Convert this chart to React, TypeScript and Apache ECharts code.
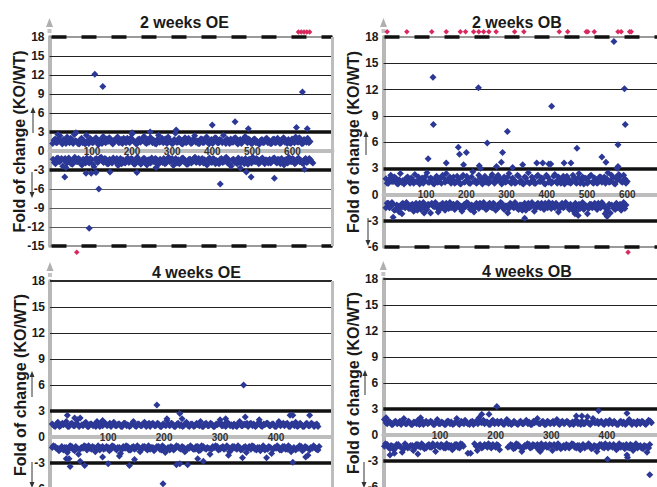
import React, { useEffect, useRef } from "react";
import * as echarts from "echarts";

const FONT = '"Liberation Sans", Arial, Helvetica, sans-serif';

const panelTitles = ["2 weeks OE", "2 weeks OB", "4 weeks OE", "4 weeks OB"];
const yAxisTitle = "Fold of change (KO/WT)";
const xTickLabels = [
  [100, 200, 300, 400, 500, 600],
  [100, 200, 300, 400, 500, 600],
  [100, 200, 300, 400],
  [100, 200, 300, 400],
];
const yMinValues = [-15, -6, -6, -6];
const yMaxValues = [18, 18, 18, 18];
const xMinValues = [-6, -6, -4, -2];
const xMaxValues = [700, 674, 500, 490];

// ---------- 2 weeks OE ----------
const oe2Up = [
  [2,1.2],[8,1.9],[14,1.4],[20,2.4],[26,1.1],[32,1.7],[38,2.2],[44,1.3],[50,1.8],[56,2.6],
  [62,1.5],[68,1.1],[74,2.0],[80,1.6],[86,2.5],[92,1.2],[98,1.8],[104,1.4],[110,2.1],[116,1.0],
  [122,1.7],[128,2.3],[134,1.3],[140,1.5],[146,1.9],[152,1.1],[158,1.6],[164,2.2],[170,1.4],[176,1.2],
  [182,1.8],[188,2.0],[194,1.3],[200,2.7],[206,1.5],[212,1.1],[218,1.9],[224,1.6],[230,2.3],[236,1.2],
  [242,1.4],[248,2.0],[254,1.7],[260,1.1],[266,2.5],[272,1.5],[278,1.3],[284,1.9],[290,2.2],[296,1.6],
  [302,1.2],[308,2.8],[314,1.4],[320,1.8],[326,1.1],[332,2.1],[338,1.5],[344,1.7],[350,1.3],[356,2.4],
  [362,1.6],[368,1.2],[374,1.9],[380,1.4],[386,2.2],[392,1.1],[398,1.8],[404,1.5],[410,2.0],[416,1.3],
  [422,1.7],[428,2.5],[434,1.2],[440,1.6],[446,1.9],[452,1.4],[458,2.1],[464,1.1],[470,1.8],[476,1.5],
  [482,2.3],[488,1.3],[494,1.7],[500,1.2],[506,1.9],[512,1.5],[518,1.1],[524,1.8],[530,1.4],[536,2.0],
  [542,1.6],[548,1.2],[554,1.9],[560,1.4],[566,1.7],[572,1.3],[578,2.1],[584,1.5],[590,1.8],[596,1.2],
  [602,1.6],[608,2.2],[614,1.4],[620,1.9],[626,1.2],[632,1.7],[638,2.0],[644,1.5],
];
const oe2UpB = [
  [5,1.7],[11,1.3],[17,2.0],[23,1.5],[29,1.8],[35,1.2],[41,1.5],[47,2.0],[53,1.2],[59,1.6],
  [65,1.2],[71,1.8],[77,1.3],[83,1.1],[89,1.6],[95,2.0],[101,1.3],[107,1.9],[113,1.4],[119,1.7],
  [125,1.2],[131,1.5],[137,1.9],[143,2.1],[149,1.3],[155,1.7],[161,2.0],[167,1.3],[173,1.8],[179,2.0],
  [185,1.3],[191,1.5],[197,2.1],[203,1.6],[209,1.2],[215,1.8],[221,1.4],[227,2.1],[233,1.3],[239,1.8],
  [245,2.1],[251,1.3],[257,1.2],[263,1.8],[269,1.4],[275,2.0],[281,1.8],[287,1.2],[293,1.5],[299,1.2],
  [305,1.8],[311,1.4],[317,2.0],[323,1.2],[329,1.7],[335,1.3],[341,2.0],[347,1.2],[353,1.9],[359,1.4],
  [365,1.2],[371,1.9],[377,1.3],[383,2.0],[389,1.4],[395,1.7],[401,1.2],[407,2.1],[413,1.3],[419,1.8],
  [425,1.3],[431,1.5],[437,1.9],[443,1.2],[449,1.4],[455,2.0],[461,1.3],[467,1.7],[473,1.2],[479,2.0],
  [485,1.5],[491,1.9],[497,1.2],[503,1.8],[509,1.3],[515,1.2],[521,1.7],[527,1.3],[533,1.9],[539,1.3],
  [545,1.2],[551,1.8],[557,1.3],[563,2.0],[569,1.2],[575,1.9],[581,1.4],[587,1.2],[593,1.3],[599,1.9],
  [605,1.3],[611,1.5],[617,2.1],[623,1.2],[629,1.8],[635,1.4],[641,1.3],
];
const oe2UpOutliers = [
  [107,12.1],[127,10.2],[625,9.3],[457,4.6],[400,4.1],[310,3.3],[490,3.5],[610,3.7],[637,3.5],
  [200,2.9],[245,3.0],[60,2.9],[15,2.6],
];
const oe2Down = [
  [3,-1.3],[9,-2.0],[15,-1.1],[21,-1.6],[27,-2.4],[33,-1.2],[39,-1.8],[45,-1.4],[51,-2.1],[57,-1.0],
  [63,-1.7],[69,-1.3],[75,-2.2],[81,-1.5],[87,-1.1],[93,-1.9],[99,-1.4],[105,-2.5],[111,-1.2],[117,-1.6],
  [123,-1.0],[129,-1.8],[135,-1.3],[141,-2.0],[147,-1.5],[153,-1.1],[159,-1.7],[165,-2.3],[171,-1.2],[177,-1.4],
  [183,-1.9],[189,-1.1],[195,-1.6],[201,-1.3],[207,-2.1],[213,-1.0],[219,-1.5],[225,-1.8],[231,-1.2],[237,-2.2],
  [243,-1.4],[249,-1.1],[255,-1.7],[261,-1.3],[267,-2.0],[273,-1.5],[279,-1.2],[285,-1.9],[291,-1.0],[297,-1.6],
  [303,-2.3],[309,-1.2],[315,-1.4],[321,-1.8],[327,-1.1],[333,-1.5],[339,-2.1],[345,-1.3],[351,-1.7],[357,-1.0],
  [363,-1.6],[369,-1.9],[375,-1.2],[381,-1.4],[387,-2.2],[393,-1.1],[399,-1.8],[405,-1.3],[411,-1.5],[417,-2.0],
  [423,-1.2],[429,-1.7],[435,-1.0],[441,-1.4],[447,-2.4],[453,-1.3],[459,-1.6],[465,-1.1],[471,-1.9],[477,-1.5],
  [483,-1.2],[489,-2.1],[495,-1.4],[501,-1.0],[507,-1.7],[513,-1.3],[519,-1.8],[525,-1.1],[531,-2.0],[537,-1.5],
  [543,-1.3],[549,-1.6],[555,-1.1],[561,-1.9],[567,-1.4],[573,-1.2],[579,-2.2],[585,-1.5],[591,-1.0],[597,-1.7],
  [603,-1.3],[609,-1.8],[615,-1.1],[621,-1.5],[627,-2.0],[633,-1.2],[639,-1.6],[645,-1.4],[651,-1.9],
];
const oe2DownB = [
  [6,-1.8],[12,-1.2],[18,-1.7],[24,-1.2],[30,-1.4],[36,-1.9],[42,-1.1],[48,-2.0],[54,-1.3],[60,-1.6],
  [66,-1.2],[72,-2.0],[78,-1.3],[84,-1.9],[90,-1.7],[96,-1.2],[102,-2.1],[108,-1.3],[114,-1.8],[120,-1.1],
  [126,-1.6],[132,-1.2],[138,-2.0],[144,-1.3],[150,-1.9],[156,-1.6],[162,-1.2],[168,-1.5],[174,-2.0],[180,-1.8],
  [186,-1.3],[192,-1.8],[198,-1.2],[204,-2.0],[210,-1.4],[216,-1.7],[222,-2.1],[228,-1.2],[234,-1.9],[240,-1.4],
  [246,-1.9],[252,-1.6],[258,-1.2],[264,-2.1],[270,-1.3],[276,-1.8],[282,-2.0],[288,-1.3],[294,-1.7],[300,-1.2],
  [306,-1.5],[312,-1.9],[318,-2.0],[324,-1.2],[330,-1.7],[336,-2.1],[342,-1.3],[348,-1.9],[354,-1.2],[360,-1.8],
  [366,-1.2],[372,-1.4],[378,-1.9],[384,-2.0],[390,-1.3],[396,-1.7],[402,-1.2],[408,-2.0],[414,-1.8],[420,-1.3],
  [426,-1.8],[432,-1.2],[438,-1.9],[444,-2.1],[450,-1.4],[456,-1.8],[462,-2.0],[468,-1.7],[474,-1.3],[480,-2.0],
  [486,-1.8],[492,-1.3],[498,-1.9],[504,-1.6],[510,-1.2],[516,-2.0],[522,-1.3],[528,-1.7],[534,-1.4],[540,-1.9],
  [546,-1.9],[552,-1.2],[558,-1.7],[564,-1.3],[570,-2.0],[576,-1.7],[582,-1.4],[588,-1.9],[594,-1.6],[600,-1.2],
  [606,-2.0],[612,-1.3],[618,-1.7],[624,-1.9],[630,-1.4],[636,-1.8],[642,-1.2],[648,-1.7],
];
const oe2DownOutliers = [
  [32,-4.1],[93,-12.2],[117,-6.0],[85,-3.5],[98,-3.5],[110,-3.4],[145,-3.3],[212,-3.4],[420,-5.2],
  [485,-3.3],[497,-4.1],[555,-4.3],[630,-2.9],[35,-2.6],[260,-2.6],[470,-2.7],
];
const oe2OffScale = [[615,18.8],[622,18.8],[629,18.8],[636,18.8],[643,18.8],[62,-16.0]];

// ---------- 2 weeks OB ----------
const ob2Up = [
  [0,1.8],[6,1.3],[12,2.2],[18,1.5],[24,1.9],[30,1.2],[36,2.4],[42,1.6],[48,1.4],[54,2.0],
  [60,1.3],[66,1.7],[72,2.3],[78,1.5],[84,1.2],[90,1.9],[96,1.6],[102,2.5],[108,1.4],[114,1.8],
  [120,1.2],[126,2.1],[132,1.5],[138,1.3],[144,1.9],[150,2.4],[156,1.6],[162,1.3],[168,2.0],[174,1.4],
  [180,1.7],[186,1.2],[192,2.2],[198,1.5],[204,1.8],[210,1.3],[216,2.6],[222,1.6],[228,1.4],[234,1.9],
  [240,1.2],[246,2.1],[252,1.7],[258,1.4],[264,2.3],[270,1.3],[276,1.6],[282,1.9],[288,1.2],[294,2.0],
  [300,1.5],[306,2.4],[312,1.3],[318,1.7],[324,1.4],[330,2.1],[336,1.6],[342,1.2],[348,1.9],[354,2.5],
  [360,1.4],[366,1.7],[372,1.3],[378,2.2],[384,1.5],[390,1.8],[396,1.2],[402,2.0],[408,1.6],[414,1.4],
  [420,2.3],[426,1.3],[432,1.8],[438,1.5],[444,1.2],[450,2.1],[456,1.7],[462,1.4],[468,1.9],[474,1.3],
  [480,2.4],[486,1.6],[492,1.2],[498,1.8],[504,1.5],[510,2.2],[516,1.3],[522,1.7],[528,1.4],[534,2.0],
  [540,1.6],[546,1.3],[552,2.5],[558,1.5],[564,1.9],[570,1.2],[576,1.7],[582,2.1],[588,1.4],[594,1.8],
  [600,1.5],
];
const ob2UpB = [
  [3,1.3],[9,1.8],[15,1.5],[21,2.0],[27,1.3],[33,1.7],[39,1.4],[45,1.2],[51,1.9],[57,1.5],
  [63,1.9],[69,1.3],[75,1.5],[81,2.0],[87,1.7],[93,1.3],[99,2.1],[105,1.4],[111,1.9],[117,1.3],
  [123,1.8],[129,1.4],[135,1.9],[141,2.2],[147,1.4],[153,1.6],[159,2.0],[165,1.7],[171,1.3],[177,2.1],
  [183,1.3],[189,2.0],[195,1.4],[201,2.1],[207,1.3],[213,2.0],[219,1.5],[225,1.3],[231,2.2],[237,1.4],
  [243,1.8],[249,1.4],[255,1.3],[261,2.0],[267,1.5],[273,1.9],[279,2.2],[285,1.4],[291,1.8],[297,1.4],
  [303,2.0],[309,1.4],[315,1.9],[321,1.3],[327,2.2],[333,1.4],[339,1.3],[345,2.0],[351,1.5],[357,1.3],
  [363,2.0],[369,1.3],[375,2.1],[381,1.5],[387,1.9],[393,1.3],[399,2.2],[405,1.4],[411,1.3],[417,2.1],
  [423,1.5],[429,2.0],[435,1.3],[441,2.1],[447,1.8],[453,1.4],[459,1.3],[465,2.2],[471,1.4],[477,1.9],
  [483,1.3],[489,2.0],[495,1.9],[501,1.3],[507,2.1],[513,1.4],[519,1.9],[525,1.3],[531,2.0],[537,1.4],
  [543,2.0],[549,1.8],[555,1.4],[561,2.2],[567,1.3],[573,2.0],[579,2.3],[585,1.5],[591,2.2],[597,1.3],
];
const ob2UpOutliers = [
  [567,17.5],[117,13.4],[118,8.0],[230,12.2],[412,10.1],[593,12.1],[595,8.0],[302,7.2],[252,5.9],
  [577,5.7],[105,4.1],[180,5.4],[183,4.6],[200,4.8],[290,4.8],[475,5.3],[537,4.3],[547,3.7],
  [150,3.6],[193,3.4],[232,3.3],[275,3.2],[287,3.7],[315,3.1],[340,3.4],[375,3.6],[390,3.6],
  [405,3.5],[410,3.5],[443,3.6],[460,3.6],[577,3.2],[235,3.0],[575,3.0],
];
const ob2Down = [
  [3,-1.0],[9,-1.5],[15,-0.9],[21,-1.8],[27,-1.2],[33,-2.0],[39,-1.1],[45,-1.4],[51,-0.9],[57,-1.6],
  [63,-1.2],[69,-1.9],[75,-1.0],[81,-1.3],[87,-1.7],[93,-0.9],[99,-1.5],[105,-1.1],[111,-2.1],[117,-1.3],
  [123,-0.9],[129,-1.6],[135,-1.2],[141,-1.0],[147,-1.8],[153,-1.4],[159,-0.9],[165,-1.2],[171,-1.7],[177,-1.0],
  [183,-1.5],[189,-1.9],[195,-1.1],[201,-0.9],[207,-1.4],[213,-1.2],[219,-2.0],[225,-1.0],[231,-1.6],[237,-1.3],
  [243,-0.9],[249,-1.7],[255,-1.1],[261,-1.4],[267,-1.0],[273,-1.8],[279,-1.2],[285,-0.9],[291,-1.5],[297,-1.3],
  [303,-2.1],[309,-1.0],[315,-1.4],[321,-0.9],[327,-1.6],[333,-1.2],[339,-1.8],[345,-1.0],[351,-1.3],[357,-1.5],
  [363,-0.9],[369,-1.9],[375,-1.1],[381,-1.4],[387,-1.0],[393,-1.7],[399,-1.2],[405,-0.9],[411,-1.6],[417,-1.3],
  [423,-1.0],[429,-2.0],[435,-1.2],[441,-1.5],[447,-0.9],[453,-1.4],[459,-1.1],[465,-1.8],[471,-1.0],[477,-1.3],
  [483,-1.6],[489,-0.9],[495,-1.2],[501,-2.2],[507,-1.1],[513,-1.5],[519,-1.0],[525,-1.7],[531,-1.3],[537,-0.9],
  [543,-1.4],[549,-1.9],[555,-1.1],[561,-1.2],[567,-1.6],[573,-1.0],[579,-1.3],[585,-1.8],[591,-0.9],[597,-1.2],
];
const ob2DownB = [
  [0,-1.5],[6,-1.0],[12,-1.4],[18,-1.1],[24,-1.7],[30,-1.3],[36,-1.6],[42,-1.0],[48,-1.5],[54,-1.1],
  [60,-1.6],[66,-1.1],[72,-1.5],[78,-1.8],[84,-1.0],[90,-1.4],[96,-1.1],[102,-1.7],[108,-1.2],[114,-1.0],
  [120,-1.4],[126,-1.1],[132,-1.7],[138,-1.5],[144,-1.2],[150,-1.0],[156,-1.6],[162,-1.5],[168,-1.1],[174,-1.4],
  [180,-1.1],[186,-1.3],[192,-1.6],[198,-1.4],[204,-1.0],[210,-1.7],[216,-1.3],[222,-1.5],[228,-1.1],[234,-1.0],
  [240,-1.4],[246,-1.2],[252,-1.6],[258,-1.0],[264,-1.5],[270,-1.1],[276,-1.6],[282,-1.4],[288,-1.0],[294,-1.7],
  [300,-1.3],[306,-1.6],[312,-1.1],[318,-1.5],[324,-1.1],[330,-1.7],[336,-1.2],[342,-1.5],[348,-1.8],[354,-1.0],
  [360,-1.4],[366,-1.2],[372,-1.6],[378,-1.0],[384,-1.5],[390,-1.2],[396,-1.0],[402,-1.5],[408,-1.1],[414,-1.0],
  [420,-1.5],[426,-1.3],[432,-1.6],[438,-1.0],[444,-1.4],[450,-1.1],[456,-1.7],[462,-1.3],[468,-1.5],[474,-1.9],
  [480,-1.1],[486,-1.4],[492,-1.7],[498,-1.3],[504,-1.6],[510,-1.1],[516,-1.4],[522,-1.2],[528,-1.0],[534,-1.5],
  [540,-1.1],[546,-1.5],[552,-1.6],[558,-2.1],[564,-1.3],[570,-1.7],[576,-1.5],[582,-1.1],[588,-1.5],[594,-1.6],
];
const ob2DownOutliers = [
  [345,-2.7],[18,-2.6],[470,-2.2],[478,-2.4],[545,-2.2],[550,-2.5],[40,-2.2],[95,-2.1],[130,-2.0],
];
const ob2OffScale = [
  [3,18.6],[52,18.6],[114,18.6],[150,18.6],[185,18.6],[198,18.6],[218,18.6],[231,18.6],[243,18.6],
  [256,18.6],[274,18.6],[320,18.6],[343,18.6],[431,18.6],[452,18.6],[498,18.6],[502,18.6],[518,18.6],
  [577,18.6],[585,18.6],[606,18.6],[610,18.6],[602,-6.6],
];

// ---------- 4 weeks OE ----------
const oe4Up = [
  [0,1.5],[5,1.2],[10,1.7],[15,1.3],[20,1.4],[25,1.8],[30,1.2],[35,1.6],[40,1.3],[45,1.5],
  [50,2.2],[55,1.3],[60,1.7],[65,1.2],[70,1.5],[75,1.4],[80,1.8],[85,1.2],[90,1.3],[95,1.6],
  [100,1.4],[105,1.2],[110,1.7],[115,1.3],[120,1.5],[125,1.2],[130,1.6],[135,1.4],[140,1.3],[145,1.8],
  [150,1.2],[155,1.5],[160,1.3],[165,1.7],[170,1.4],[175,1.2],[180,1.6],[185,1.3],[190,1.5],[195,1.2],
  [200,1.4],[205,1.9],[210,1.3],[215,1.5],[220,1.2],[225,1.6],[230,1.4],[235,1.3],[240,1.7],[245,1.2],
  [250,1.5],[255,1.3],[260,1.4],[265,1.8],[270,1.2],[275,1.6],[280,1.3],[285,1.5],[290,1.2],[295,1.4],
  [300,1.7],[305,1.3],[310,1.2],[315,1.6],[320,1.4],[325,1.5],[330,1.2],[335,1.8],[340,1.3],[345,1.4],
  [350,1.2],[355,1.6],[360,1.5],[365,1.3],[370,1.7],[375,1.2],[380,1.4],[385,1.6],[390,1.3],[395,1.5],
  [400,1.2],[405,1.8],[410,1.4],[415,1.3],[420,1.6],[425,1.2],[430,1.5],[435,1.7],[440,1.3],[445,1.4],
  [450,1.2],[455,1.6],[460,1.3],[465,1.5],[470,1.4],[475,1.2],
];
const oe4UpB = [
  [3,1.3],[8,1.5],[13,1.2],[18,1.6],[23,1.5],[28,1.2],[33,1.5],[38,1.3],[43,1.6],[48,1.2],
  [53,1.4],[58,1.6],[63,1.2],[68,1.5],[73,1.3],[78,1.2],[83,1.4],[88,1.6],[93,1.5],[98,1.3],
  [103,1.6],[108,1.5],[113,1.3],[118,1.5],[123,1.2],[128,1.6],[133,1.3],[138,1.2],[143,1.6],[148,1.3],
  [153,1.5],[158,1.3],[163,1.6],[168,1.2],[173,1.6],[178,1.5],[183,1.3],[188,1.6],[193,1.2],[198,1.5],
  [203,1.3],[208,1.4],[213,1.6],[218,1.2],[223,1.5],[228,1.3],[233,1.2],[238,1.6],[243,1.3],[248,1.5],
  [253,1.2],[258,1.6],[263,1.3],[268,1.2],[273,1.5],[278,1.3],[283,1.6],[288,1.2],[293,1.5],[298,1.6],
  [303,1.3],[308,1.5],[313,1.6],[318,1.3],[323,1.2],[328,1.3],[333,1.6],[338,1.3],[343,1.5],[348,1.6],
  [353,1.5],[358,1.3],[363,1.2],[368,1.6],[373,1.3],[378,1.5],[383,1.6],[388,1.3],[393,1.5],[398,1.2],
  [403,1.5],[408,1.3],[413,1.6],[418,1.5],[423,1.2],[428,1.5],[433,1.3],[438,1.2],[443,1.6],[448,1.2],
  [453,1.5],[458,1.3],[463,1.6],[468,1.2],[473,1.5],
];
const oe4UpOutliers = [
  [187,3.7],[342,6.0],[27,2.5],[228,2.7],[232,2.1],[40,2.2],[45,2.0],[345,2.3],[370,2.0],
  [425,2.5],[430,2.5],[460,2.5],[205,2.1],[90,1.9],[300,2.0],[310,2.1],
];
const oe4Down = [
  [2,-1.0],[7,-1.3],[12,-1.6],[17,-1.1],[22,-1.2],[27,-1.8],[32,-1.0],[37,-1.4],[42,-1.1],[47,-2.0],
  [52,-1.2],[57,-1.0],[62,-1.5],[67,-1.3],[72,-1.1],[77,-1.7],[82,-1.0],[87,-1.2],[92,-1.4],[97,-1.1],
  [102,-1.6],[107,-1.0],[112,-1.3],[117,-1.2],[122,-1.9],[127,-1.1],[132,-1.0],[137,-1.5],[142,-1.2],[147,-1.4],
  [152,-1.0],[157,-1.7],[162,-1.1],[167,-1.3],[172,-1.0],[177,-1.2],[182,-1.6],[187,-1.1],[192,-1.4],[197,-1.0],
  [202,-1.8],[207,-1.2],[212,-1.1],[217,-1.5],[222,-1.0],[227,-1.3],[232,-1.1],[237,-1.7],[242,-1.2],[247,-1.0],
  [252,-1.4],[257,-1.1],[262,-1.6],[267,-1.0],[272,-1.3],[277,-1.2],[282,-2.0],[287,-1.1],[292,-1.0],[297,-1.5],
  [302,-1.2],[307,-1.4],[312,-1.0],[317,-1.7],[322,-1.1],[327,-1.3],[332,-1.0],[337,-1.5],[342,-1.2],[347,-1.8],
  [352,-1.1],[357,-1.0],[362,-1.4],[367,-1.2],[372,-1.6],[377,-1.0],[382,-1.3],[387,-1.1],[392,-1.9],[397,-1.2],
  [402,-1.0],[407,-1.5],[412,-1.1],[417,-1.4],[422,-1.0],[427,-1.7],[432,-1.2],[437,-1.3],[442,-1.0],[447,-1.6],
  [452,-1.1],[457,-2.1],[462,-1.2],[467,-1.0],[472,-1.4],[477,-1.1],
];
const oe4DownB = [
  [0,-1.2],[5,-1.1],[10,-1.3],[15,-1.4],[20,-1.5],[25,-1.2],[30,-1.4],[35,-1.1],[40,-1.6],[45,-1.3],
  [50,-1.4],[55,-1.3],[60,-1.1],[65,-1.0],[70,-1.4],[75,-1.2],[80,-1.3],[85,-1.5],[90,-1.1],[95,-1.3],
  [100,-1.2],[105,-1.4],[110,-1.1],[115,-1.5],[120,-1.2],[125,-1.4],[130,-1.3],[135,-1.1],[140,-1.5],[145,-1.1],
  [150,-1.3],[155,-1.2],[160,-1.4],[165,-1.1],[170,-1.5],[175,-1.4],[180,-1.2],[185,-1.3],[190,-1.1],[195,-1.5],
  [200,-1.2],[205,-1.4],[210,-1.5],[215,-1.2],[220,-1.3],[225,-1.1],[230,-1.4],[235,-1.2],[240,-1.5],[245,-1.3],
  [250,-1.2],[255,-1.4],[260,-1.1],[265,-1.5],[270,-1.1],[275,-1.4],[280,-1.3],[285,-1.4],[290,-1.2],[295,-1.1],
  [300,-1.4],[305,-1.1],[310,-1.3],[315,-1.2],[320,-1.5],[325,-1.1],[330,-1.4],[335,-1.2],[340,-1.4],[345,-1.1],
  [350,-1.3],[355,-1.4],[360,-1.1],[365,-1.5],[370,-1.2],[375,-1.3],[380,-1.5],[385,-1.4],[390,-1.2],[395,-1.4],
  [400,-1.3],[405,-1.2],[410,-1.5],[415,-1.1],[420,-1.4],[425,-1.2],[430,-1.4],[435,-1.5],[440,-1.3],[445,-1.1],
  [450,-1.4],[455,-1.2],[460,-1.5],[465,-1.3],[470,-1.2],[475,-1.5],
];
const oe4DownOutliers = [
  [198,-5.4],[25,-2.5],[30,-2.5],[32,-3.4],[50,-2.8],[58,-3.3],[90,-2.3],[100,-3.1],[138,-3.3],
  [147,-2.6],[222,-3.2],[228,-3.1],[242,-3.2],[260,-2.5],[270,-2.8],[340,-2.4],[383,-2.4],[430,-2.9],
  [453,-2.3],[120,-2.2],[315,-2.1],
];

// ---------- 4 weeks OB ----------
const ob4Up = [
  [0,1.8],[5,1.3],[10,1.5],[15,1.2],[20,1.6],[25,1.4],[30,1.2],[35,1.9],[40,1.3],[45,1.5],
  [50,1.2],[55,1.4],[60,1.7],[65,1.3],[70,1.2],[75,1.6],[80,1.4],[85,1.5],[90,1.2],[95,1.8],
  [100,1.3],[105,1.4],[110,1.2],[115,1.6],[120,1.5],[125,1.3],[130,1.9],[135,1.2],[140,1.4],[145,1.7],
  [150,1.3],[155,1.5],[160,1.2],[165,1.6],[170,2.0],[175,1.4],[180,1.3],[185,1.5],[190,1.2],[195,1.7],
  [200,1.4],[205,1.3],[210,1.6],[215,1.2],[220,1.8],[225,1.5],[230,1.3],[235,1.4],[240,1.2],[245,1.6],
  [250,1.3],[255,1.7],[260,1.5],[265,1.2],[270,1.4],[275,1.9],[280,1.3],[285,1.6],[290,1.2],[295,1.5],
  [300,1.4],[305,1.3],[310,1.8],[315,1.2],[320,1.6],[325,1.4],[330,1.5],[335,1.3],[340,1.2],[345,1.7],
  [350,1.4],[355,1.6],[360,1.3],[365,1.5],[370,1.2],[375,1.9],[380,1.4],[385,1.3],[390,1.6],[395,1.2],
  [400,1.5],[405,1.7],[410,1.3],[415,1.4],[420,1.2],[425,1.6],[430,1.5],[435,1.3],[440,1.8],[445,1.2],
  [450,1.4],[455,1.6],[460,1.3],[465,1.5],[470,1.2],[475,1.7],[480,1.4],
];
const ob4UpB = [
  [3,1.4],[8,1.6],[13,1.2],[18,1.5],[23,1.3],[28,1.6],[33,1.5],[38,1.3],[43,1.6],[48,1.2],
  [53,1.5],[58,1.3],[63,1.2],[68,1.6],[73,1.4],[78,1.3],[83,1.6],[88,1.2],[93,1.5],[98,1.3],
  [103,1.5],[108,1.2],[113,1.6],[118,1.3],[123,1.2],[128,1.5],[133,1.3],[138,1.6],[143,1.3],[148,1.4],
  [153,1.2],[158,1.6],[163,1.4],[168,1.3],[173,1.5],[178,1.7],[183,1.5],[188,1.2],[193,1.6],[198,1.3],
  [203,1.6],[208,1.5],[213,1.3],[218,1.5],[223,1.3],[228,1.2],[233,1.6],[238,1.3],[243,1.5],[248,1.3],
  [253,1.5],[258,1.3],[263,1.2],[268,1.6],[273,1.5],[278,1.3],[283,1.5],[288,1.2],[293,1.6],[298,1.3],
  [303,1.6],[308,1.5],[313,1.3],[318,1.5],[323,1.3],[328,1.6],[333,1.2],[338,1.5],[343,1.6],[348,1.3],
  [353,1.2],[358,1.3],[363,1.6],[368,1.3],[373,1.5],[378,1.4],[383,1.6],[388,1.5],[393,1.3],[398,1.6],
  [403,1.3],[408,1.4],[413,1.6],[418,1.2],[423,1.5],[428,1.3],[433,1.2],[438,1.6],[443,1.4],[448,1.5],
  [453,1.2],[458,1.5],[463,1.6],[468,1.3],[473,1.5],[478,1.6],
];
const ob4UpOutliers = [
  [202,3.3],[385,2.8],[175,2.4],[188,2.4],[436,2.5],[3,2.0],[345,2.2],[355,2.2],[365,2.1],[65,2.0],
];
const ob4Down = [
  [2,-1.0],[7,-1.4],[12,-1.2],[17,-1.7],[22,-1.1],[27,-1.3],[32,-2.0],[37,-1.0],[42,-1.5],[47,-1.2],
  [52,-1.8],[57,-1.1],[62,-1.3],[67,-1.0],[72,-1.6],[77,-1.2],[82,-1.4],[87,-1.0],[92,-1.9],[97,-1.3],
  [102,-1.1],[107,-1.5],[112,-1.0],[117,-1.2],[122,-1.7],[127,-1.1],[132,-1.4],[137,-1.0],[142,-1.3],
  [162,-1.0],[167,-1.8],[172,-1.1],[177,-1.4],[182,-1.2],[187,-1.0],[192,-1.5],[197,-1.3],
  [202,-1.1],[207,-1.7],[222,-1.4],[227,-1.1],[232,-1.6],[237,-1.0],[242,-1.3],[247,-1.9],
  [252,-1.2],[257,-1.0],[262,-1.5],[267,-1.1],[272,-1.3],[277,-1.7],[282,-1.0],[287,-1.2],[292,-1.4],[297,-1.1],
  [302,-1.8],[307,-1.3],[312,-1.0],[317,-1.6],[322,-1.2],[327,-1.1],[332,-1.5],[337,-1.0],[342,-1.4],[347,-1.2],
  [352,-1.7],[357,-1.1],[362,-1.3],[367,-1.0],[372,-1.6],[377,-1.2],[382,-1.9],[387,-1.1],[392,-1.4],[397,-1.0],
  [402,-1.5],[407,-1.3],[412,-1.1],[417,-1.7],[422,-1.0],[427,-1.2],[432,-1.6],[437,-1.4],[442,-1.1],[447,-1.8],
  [452,-1.0],[457,-1.3],[462,-1.5],[467,-1.2],[472,-2.0],[477,-1.1],
];
const ob4DownB = [
  [0,-1.3],[5,-1.1],[10,-1.6],[15,-1.3],[20,-1.5],[25,-1.1],[30,-1.4],[35,-1.6],[40,-1.2],[45,-1.4],
  [50,-1.2],[55,-1.5],[60,-1.1],[65,-1.4],[70,-1.2],[75,-1.5],[80,-1.1],[85,-1.4],[90,-1.3],[95,-1.1],
  [100,-1.4],[105,-1.2],[110,-1.5],[115,-1.4],[120,-1.2],[125,-1.5],[130,-1.1],[135,-1.5],[140,-1.1],
  [165,-1.3],[170,-1.2],[175,-1.5],[180,-1.1],[185,-1.4],[190,-1.2],[195,-1.1],
  [200,-1.4],[205,-1.2],[225,-1.3],[230,-1.2],[235,-1.5],[240,-1.1],[245,-1.4],
  [250,-1.5],[255,-1.3],[260,-1.1],[265,-1.4],[270,-1.2],[275,-1.1],[280,-1.4],[285,-1.5],[290,-1.1],[295,-1.4],
  [300,-1.2],[305,-1.1],[310,-1.5],[315,-1.2],[320,-1.4],[325,-1.5],[330,-1.2],[335,-1.3],[340,-1.1],[345,-1.5],
  [350,-1.2],[355,-1.4],[360,-1.5],[365,-1.3],[370,-1.2],[375,-1.5],[380,-1.3],[385,-1.4],[390,-1.1],[395,-1.5],
  [400,-1.2],[405,-1.1],[410,-1.4],[415,-1.3],[420,-1.5],[425,-1.4],[430,-1.2],[435,-1.1],[440,-1.5],[445,-1.2],
  [450,-1.4],[455,-1.5],[460,-1.2],[465,-1.6],[470,-1.3],[475,-1.5],
];
const ob4DownOutliers = [
  [401,-2.8],[477,-4.6],[436,-2.3],[437,-2.6],[10,-2.3],[18,-2.1],[150,-2.1],[155,-2.1],[60,-2.2],[280,-1.9],
];

const blueData = [
  [...oe2Up, ...oe2UpB, ...oe2UpOutliers, ...oe2Down, ...oe2DownB, ...oe2DownOutliers],
  [...ob2Up, ...ob2UpB, ...ob2UpOutliers, ...ob2Down, ...ob2DownB, ...ob2DownOutliers],
  [...oe4Up, ...oe4UpB, ...oe4UpOutliers, ...oe4Down, ...oe4DownB, ...oe4DownOutliers],
  [...ob4Up, ...ob4UpB, ...ob4UpOutliers, ...ob4Down, ...ob4DownB, ...ob4DownOutliers],
];
const redData = [oe2OffScale, ob2OffScale, [], []];

const BLUE = "#2c3896";
const RED = "#d8285e";
const INK = "#1a1a1a";

type GridBox = { left: number; top: number; width: number; height: number };
const grids: GridBox[] = [
  { left: 49.5, top: 37, width: 283, height: 209 },
  { left: 383.5, top: 37, width: 273.5, height: 210 },
  { left: 50, top: 281, width: 282, height: 208 },
  { left: 383.3, top: 279, width: 273.7, height: 208 },
];
const titleLefts = [140, 472, 152, 482];
const titleTops = [14, 14, 264, 263];

function hLine(v: number, color: string, width: number) {
  return { yAxis: v, lineStyle: { color, width, type: "solid" } };
}

function panelLines(i: number) {
  const out: any[] = [];
  [6, 9, 12, 15].forEach((v) => out.push(hLine(v, "#222", 1)));
  if (i === 0) {
    [-6, -9, -12].forEach((v) => out.push(hLine(v, "#5a5a5a", 1)));
  }
  out.push(hLine(3, "#111", 3.5));
  out.push(hLine(-3, "#111", 3.5));
  if (i < 2) {
    const off = i === 0 ? 27.5 : 28.5;
    const ends = i === 0 ? [18, -15] : [18, -6];
    ends.forEach((v) => {
      out.push(hLine(v, "#9a9a9a", 2));
      out.push({ yAxis: v, lineStyle: { color: "#111", width: 3.5, type: [15, 15], dashOffset: off } });
    });
  } else {
    out.push(hLine(18, "#2a2a2a", 2));
  }
  if (i === 0 || i === 2) {
    out.push({ xAxis: xMaxValues[i], lineStyle: { color: "#bdbdbd", width: 3, type: "solid" } });
  }
  return out;
}

function arrowEls(x: number, y0: number, y1: number) {
  const dir = y1 > y0 ? 1 : -1;
  return [
    {
      type: "polyline",
      shape: { points: [[x, y0], [x, y1 - dir * 3]] },
      style: { stroke: "#333", lineWidth: 1, fill: null },
      silent: true,
    },
    {
      type: "polygon",
      shape: { points: [[x - 2.5, y1 - dir * 6], [x + 2.5, y1 - dir * 6], [x, y1]] },
      style: { fill: "#333" },
      silent: true,
    },
  ];
}

function axisTopMark(cx: number, tipY: number) {
  return [
    {
      type: "polygon",
      shape: { points: [[cx - 3.5, tipY + 9], [cx + 3.5, tipY + 9], [cx, tipY]] },
      style: { fill: "#b0b0b0" },
      silent: true,
    },
    {
      type: "rect",
      shape: { x: cx - 2, y: tipY + 11, width: 4, height: 4 },
      style: { fill: "#c4c4c4" },
      silent: true,
    },
  ];
}

export default function App() {
  const ref = useRef<HTMLDivElement>(null);

  useEffect(() => {
    if (!ref.current) return;
    const chart = echarts.init(ref.current, undefined, { renderer: "svg" });

    const option: any = {
      animation: false,
      backgroundColor: "#ffffff",
      textStyle: { fontFamily: FONT },
      title: panelTitles.map((t, i) => ({
        text: t,
        left: titleLefts[i],
        top: titleTops[i],
        padding: 0,
        textStyle: { fontSize: 16, fontWeight: "bold", color: INK, fontFamily: FONT },
      })),
      grid: grids.map((g) => ({ ...g, containLabel: false, outerBoundsMode: "none" })),
      xAxis: grids.map((g, i) => ({
        type: "value",
        gridIndex: i,
        min: xMinValues[i],
        max: xMaxValues[i],
        position: "bottom",
        // place the axis (line + labels) on the zero line of the value axis
        offset: -(g.height * (0 - yMinValues[i])) / (yMaxValues[i] - yMinValues[i]),
        axisLine: { show: true, onZero: false, lineStyle: { color: "#bdbdbd", width: 4 } },
        axisTick: { show: false },
        splitLine: { show: false },
        axisLabel: {
          customValues: xTickLabels[i],
          verticalAlign: "middle",
          margin: 0,
          fontSize: 10,
          fontWeight: "bold",
          color: "#333",
          fontFamily: FONT,
        },
      })),
      yAxis: grids.map((_, i) => ({
        type: "value",
        gridIndex: i,
        min: yMinValues[i],
        max: yMaxValues[i],
        interval: 3,
        axisLine: { show: true, onZero: false, lineStyle: { color: "#b8b8b8", width: 4 } },
        axisTick: { show: false },
        splitLine: { show: false },
        axisLabel: { fontSize: 12, fontWeight: "bold", color: INK, margin: 5, fontFamily: FONT },
        name: yAxisTitle,
        nameLocation: "middle",
        nameRotate: 90,
        nameGap: 22,
        nameMoveOverlap: false,
        nameTextStyle: { fontSize: 16, fontWeight: "bold", color: INK, fontFamily: FONT },
      })),
      series: [
        ...grids.map((_, i) => ({
          type: "scatter",
          name: "lines" + i,
          xAxisIndex: i,
          yAxisIndex: i,
          data: [],
          silent: true,
          z: 1,
          markLine: {
            silent: true,
            symbol: ["none", "none"],
            label: { show: false },
            emphasis: { disabled: true },
            z: 1,
            animation: false,
            data: panelLines(i),
          },
        })),
        ...grids.map((_, i) => ({
          type: "scatter",
          name: panelTitles[i],
          xAxisIndex: i,
          yAxisIndex: i,
          symbol: "diamond",
          symbolSize: 7,
          itemStyle: { color: BLUE, opacity: 1 },
          data: blueData[i],
          clip: false,
          silent: true,
          z: 3,
        })),
        ...grids.map((_, i) => ({
          type: "scatter",
          name: panelTitles[i] + " off scale",
          xAxisIndex: i,
          yAxisIndex: i,
          symbol: "diamond",
          symbolSize: 5.5,
          itemStyle: { color: RED, opacity: 1 },
          data: redData[i],
          clip: false,
          silent: true,
          z: 4,
        })),
      ],
      graphic: [
        ...axisTopMark(49.5, 18),
        ...axisTopMark(383.5, 18),
        ...axisTopMark(50, 262),
        ...axisTopMark(383.3, 261),
        ...arrowEls(33, 133, 107),
        ...arrowEls(32, 172, 198),
        ...arrowEls(366, 155, 131),
        ...arrowEls(368, 218, 246),
        ...arrowEls(32, 397, 371),
        ...arrowEls(32, 462, 488),
        ...arrowEls(365, 395, 370),
        ...arrowEls(364, 462, 488),
      ],
    };

    chart.setOption(option);
    return () => chart.dispose();
  }, []);

  return (
    <div
      ref={ref}
      style={{ position: "fixed", left: 0, top: 0, width: 657, height: 487, background: "#fff" }}
    />
  );
}
